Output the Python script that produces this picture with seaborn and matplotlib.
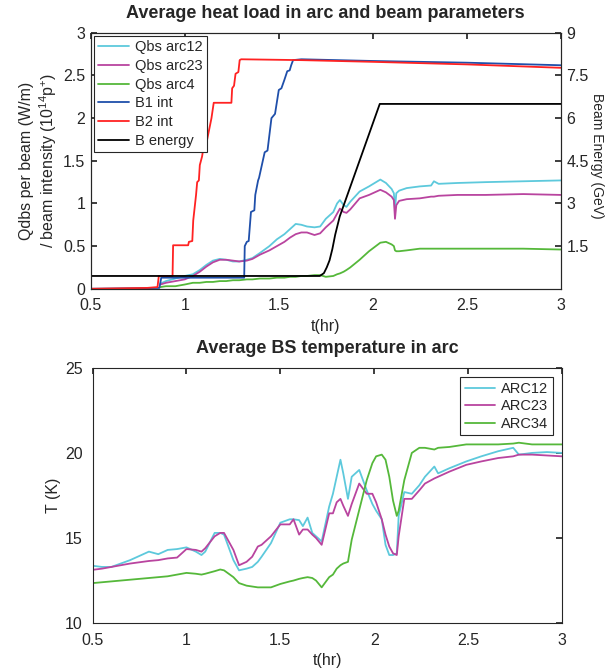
"""
Heat load in arc vs beam parameters, and arc beam screen temperature.
"""

import matplotlib

matplotlib.use("Agg")
import matplotlib.pyplot as plt
import pandas as pd
import seaborn as sns

# --- Top panel: beam intensities (10^14 p) ---
b2_t = [0.5, 0.80, 0.855, 0.862, 0.935, 0.938, 1.018, 1.022, 1.04, 1.045, 1.06, 1.066,
        1.075, 1.08, 1.092, 1.097, 1.11, 1.142, 1.154, 1.248, 1.252, 1.262, 1.27, 1.285,
        1.292, 1.30, 1.62, 2.0, 2.5, 3.0]
b2_v = [0.0, 0.01, 0.02, 0.15, 0.15, 0.51, 0.51, 0.55, 0.56, 0.8, 1.1, 1.25, 1.27, 1.45,
        1.55, 1.62, 1.65, 2.0, 2.18, 2.18, 2.35, 2.38, 2.52, 2.54, 2.68, 2.69, 2.68, 2.66,
        2.63, 2.59]

b1_t = [0.5, 0.865, 0.875, 1.316, 1.319, 1.33, 1.34, 1.352, 1.37, 1.375, 1.39, 1.395,
        1.41, 1.425, 1.44, 1.461, 1.48, 1.50, 1.514, 1.53, 1.545, 1.558, 1.566, 1.576,
        1.62, 2.0, 2.5, 3.0]
b1_v = [0.0, 0.01, 0.13, 0.13, 0.5, 0.55, 0.56, 0.9, 0.92, 1.1, 1.27, 1.3, 1.45, 1.6,
        1.62, 2.0, 2.05, 2.33, 2.35, 2.45, 2.55, 2.56, 2.62, 2.68, 2.69, 2.67, 2.65, 2.62]

# Beam energy (TeV, right axis)
energy_t = [0.5, 1.718, 1.74, 1.755, 1.77, 1.785, 1.80, 1.824, 2.037, 3.0]
energy_v = [0.45, 0.45, 0.55, 0.75, 1.0, 1.4, 1.9, 2.54, 6.5, 6.5]

# Heat load per beam / intensity (W/m / 10^14 p)
q_t = [0.87, 0.90, 0.95, 1.0, 1.043, 1.08, 1.115, 1.15, 1.186, 1.22, 1.256, 1.29, 1.33,
       1.36, 1.40, 1.45, 1.49, 1.53, 1.56, 1.59, 1.62, 1.65, 1.69, 1.72, 1.75, 1.79, 1.81,
       1.825, 1.845, 1.86, 1.88, 1.93, 1.98, 2.04, 2.07, 2.10, 2.112, 2.118, 2.125, 2.14,
       2.18, 2.25, 2.31, 2.325, 2.35, 2.45, 2.6, 2.8, 3.0]
q12_v = [0.06, 0.09, 0.12, 0.15, 0.17, 0.22, 0.28, 0.33, 0.35, 0.34, 0.32, 0.32, 0.34,
         0.36, 0.42, 0.50, 0.58, 0.64, 0.70, 0.76, 0.75, 0.73, 0.72, 0.73, 0.82, 0.90,
         1.0, 1.04, 0.98, 0.96, 1.02, 1.14, 1.20, 1.28, 1.24, 1.17, 1.12, 0.93, 1.12,
         1.15, 1.18, 1.20, 1.21, 1.26, 1.23, 1.24, 1.25, 1.26, 1.27]
q23_v = [0.05, 0.07, 0.09, 0.11, 0.15, 0.20, 0.26, 0.31, 0.34, 0.34, 0.33, 0.32, 0.33,
         0.35, 0.40, 0.45, 0.50, 0.55, 0.60, 0.64, 0.66, 0.66, 0.63, 0.65, 0.72, 0.80,
         0.88, 0.94, 0.90, 0.89, 0.93, 1.06, 1.10, 1.16, 1.13, 1.08, 1.04, 0.82, 0.98,
         1.03, 1.05, 1.06, 1.08, 1.08, 1.09, 1.10, 1.10, 1.11, 1.10]
q4_v = [0.02, 0.03, 0.03, 0.05, 0.07, 0.07, 0.08, 0.08, 0.09, 0.09, 0.10, 0.10, 0.11,
        0.11, 0.12, 0.12, 0.13, 0.13, 0.14, 0.14, 0.15, 0.15, 0.16, 0.16, 0.14, 0.15,
        0.17, 0.18, 0.20, 0.22, 0.25, 0.34, 0.44, 0.54, 0.55, 0.52, 0.50, 0.45, 0.44,
        0.44, 0.45, 0.47, 0.47, 0.47, 0.47, 0.47, 0.47, 0.47, 0.46]

# --- Bottom panel: beam screen temperature (K) ---
temp_t = [0.5, 0.55, 0.6, 0.7, 0.8, 0.85, 0.9, 0.95, 1.0, 1.05, 1.08, 1.1, 1.15, 1.18,
          1.2, 1.25, 1.28, 1.32, 1.35, 1.38, 1.4, 1.45, 1.5, 1.55, 1.57, 1.6, 1.62, 1.645,
          1.67, 1.69, 1.72, 1.76, 1.78, 1.80, 1.82, 1.835, 1.86, 1.88, 1.92, 1.96, 1.99,
          2.01, 2.04, 2.06, 2.08, 2.10, 2.12, 2.13, 2.16, 2.20, 2.24, 2.27, 2.32, 2.34,
          2.40, 2.49, 2.57, 2.66, 2.74, 2.77, 2.84, 2.92, 3.0]
arc12_v = [13.37, 13.3, 13.3, 13.7, 14.2, 14.05, 14.3, 14.35, 14.45, 14.2, 14.0, 14.2,
           15.3, 15.3, 15.2, 13.7, 13.1, 13.2, 13.3, 13.6, 13.9, 14.7, 15.9, 16.1, 16.1,
           16.05, 15.7, 16.2, 15.3, 15.1, 14.8, 16.85, 17.6, 18.6, 19.6, 18.8, 17.3, 18.6,
           19.0, 17.8, 17.0, 16.6, 16.1, 14.6, 14.0, 14.0, 14.1, 16.3, 17.7, 17.6, 18.1,
           18.6, 19.2, 18.8, 19.1, 19.5, 19.8, 20.1, 20.3, 19.9, 20.0, 20.05, 20.0]
arc23_v = [13.13, 13.2, 13.3, 13.5, 13.65, 13.7, 13.8, 13.85, 14.35, 14.3, 14.2, 14.4,
           15.1, 15.3, 15.3, 14.3, 13.4, 13.6, 13.9, 14.5, 14.6, 15.1, 15.8, 15.8, 16.1,
           15.2, 15.5, 15.5, 15.2, 15.0, 14.6, 16.45, 16.45, 17.1, 17.3, 16.9, 16.3, 17.0,
           18.2, 17.6, 17.6, 17.1, 16.1, 15.2, 14.5, 14.1, 14.0, 15.1, 17.3, 17.3, 17.8,
           18.2, 18.5, 18.6, 18.9, 19.3, 19.5, 19.7, 19.8, 19.9, 19.9, 19.85, 19.8]
arc34_v = [12.35, 12.4, 12.45, 12.55, 12.65, 12.7, 12.75, 12.85, 12.95, 12.9, 12.85, 12.9,
           13.05, 13.15, 13.1, 12.7, 12.35, 12.2, 12.15, 12.1, 12.1, 12.1, 12.3, 12.45,
           12.5, 12.6, 12.65, 12.7, 12.65, 12.5, 12.1, 12.7, 12.85, 13.2, 13.4, 13.5,
           13.6, 14.9, 16.65, 18.4, 19.4, 19.8, 19.9, 19.6, 18.6, 17.2, 16.3, 16.6, 18.4,
           20.0, 20.3, 20.3, 20.2, 20.3, 20.35, 20.5, 20.5, 20.5, 20.55, 20.6, 20.5, 20.5,
           20.5]

XTICKS = [0.5, 1, 1.5, 2, 2.5, 3]
XTICK_LABELS = ["0.5", "1", "1.5", "2", "2.5", "3"]

CYAN = "#5dc9dc"
MAGENTA = "#b9449f"
GREEN = "#55b83a"
BLUE = "#1f4faa"
RED = "#ff2222"
INK = "#262626"

TICK_FS = 11.5
LABEL_FS = 11.5
TITLE_FS = 13
LEGEND_FS = 10.5

sns.set_theme(style="white")
plt.rcParams["font.family"] = ["Liberation Sans", "DejaVu Sans"]
plt.rcParams["axes.edgecolor"] = INK
plt.rcParams["axes.linewidth"] = 0.8
plt.rcParams["xtick.color"] = INK
plt.rcParams["ytick.color"] = INK
plt.rcParams["mathtext.fontset"] = "custom"
plt.rcParams["mathtext.rm"] = "Liberation Sans"

fig = plt.figure(figsize=(6.05, 6.70), dpi=100)
ax = fig.add_axes([0.150, 0.569, 0.777, 0.382])
ax2 = ax.twinx()
bx = fig.add_axes([0.153, 0.070, 0.776, 0.381])

LW = 1.3


def draw(axis, t, v, color, label):
    df = pd.DataFrame({"t": t, "v": v})
    sns.lineplot(data=df, x="t", y="v", ax=axis, color=color, lw=LW, label=label,
                 estimator=None, sort=False, legend=False)


# top panel
draw(ax, q_t, q12_v, CYAN, "Qbs arc12")
draw(ax, q_t, q23_v, MAGENTA, "Qbs arc23")
draw(ax, q_t, q4_v, GREEN, "Qbs arc4")
draw(ax, b1_t, b1_v, BLUE, "B1 int")
draw(ax, b2_t, b2_v, RED, "B2 int")
draw(ax2, energy_t, energy_v, "black", "B energy")

ax.set_xlim(0.5, 3)
ax.set_ylim(0, 3)
ax2.set_ylim(0, 9)
ax.set_xticks(XTICKS, XTICK_LABELS)
ax.set_yticks([0, 0.5, 1, 1.5, 2, 2.5, 3], ["0", "0.5", "1", "1.5", "2", "2.5", "3"])
ax2.set_yticks([1.5, 3, 4.5, 6, 7.5, 9], ["1.5", "3", "4.5", "6", "7.5", "9"])
ax.tick_params(axis="x", direction="in", top=True, labelsize=TICK_FS, length=4, pad=7)
ax.tick_params(axis="y", direction="in", labelsize=TICK_FS, length=4, pad=4)
ax2.tick_params(axis="y", direction="in", labelsize=TICK_FS, length=4, pad=4)
ax.set_xlabel("t(hr)", fontsize=LABEL_FS, labelpad=4)
ax.set_ylabel("Qdbs per beam (W/m)\n/ beam intensity (10$^{14}$p$^{+}$)",
              fontsize=LABEL_FS, labelpad=3)
ax2.set_ylabel("Beam Energy (GeV)", fontsize=10, rotation=270, va="center", ha="center")
ax2.yaxis.set_label_coords(1.076, 0.52)
ax.set_title("Average heat load in arc and beam parameters", fontsize=TITLE_FS,
             fontweight="bold", pad=11)

handles, labels = ax.get_legend_handles_labels()
h2, l2 = ax2.get_legend_handles_labels()
leg = ax2.legend(handles + h2, labels + l2, loc="upper left", fontsize=LEGEND_FS,
                 frameon=True, fancybox=False, edgecolor=INK, framealpha=1,
                 borderpad=0.3, labelspacing=0.32, handlelength=2.1, handletextpad=0.4,
                 borderaxespad=0.22)
leg.get_frame().set_linewidth(0.8)

# bottom panel
draw(bx, temp_t, arc12_v, CYAN, "ARC12")
draw(bx, temp_t, arc23_v, MAGENTA, "ARC23")
draw(bx, temp_t, arc34_v, GREEN, "ARC34")
bx.set_xlim(0.5, 3)
bx.set_ylim(10, 25)
bx.set_xticks(XTICKS, XTICK_LABELS)
bx.set_yticks([10, 15, 20, 25])
bx.tick_params(direction="in", top=True, right=True, labelsize=TICK_FS, length=4, pad=7)
bx.set_xlabel("t(hr)", fontsize=LABEL_FS, labelpad=4)
bx.set_ylabel("T (K)", fontsize=LABEL_FS, labelpad=3)
bx.set_title("Average BS temperature in arc", fontsize=TITLE_FS, fontweight="bold",
             pad=11)
leg2 = bx.legend(loc="upper right", fontsize=LEGEND_FS, frameon=True, fancybox=False,
                 edgecolor=INK, framealpha=1, borderpad=0.3, labelspacing=0.25,
                 handlelength=2.1, handletextpad=0.4, borderaxespad=0.65)
leg2.get_frame().set_linewidth(0.8)

for a in (ax, ax2, bx):
    for s in a.spines.values():
        s.set_visible(True)
        s.set_color(INK)

fig.savefig("out.png", dpi=100)
